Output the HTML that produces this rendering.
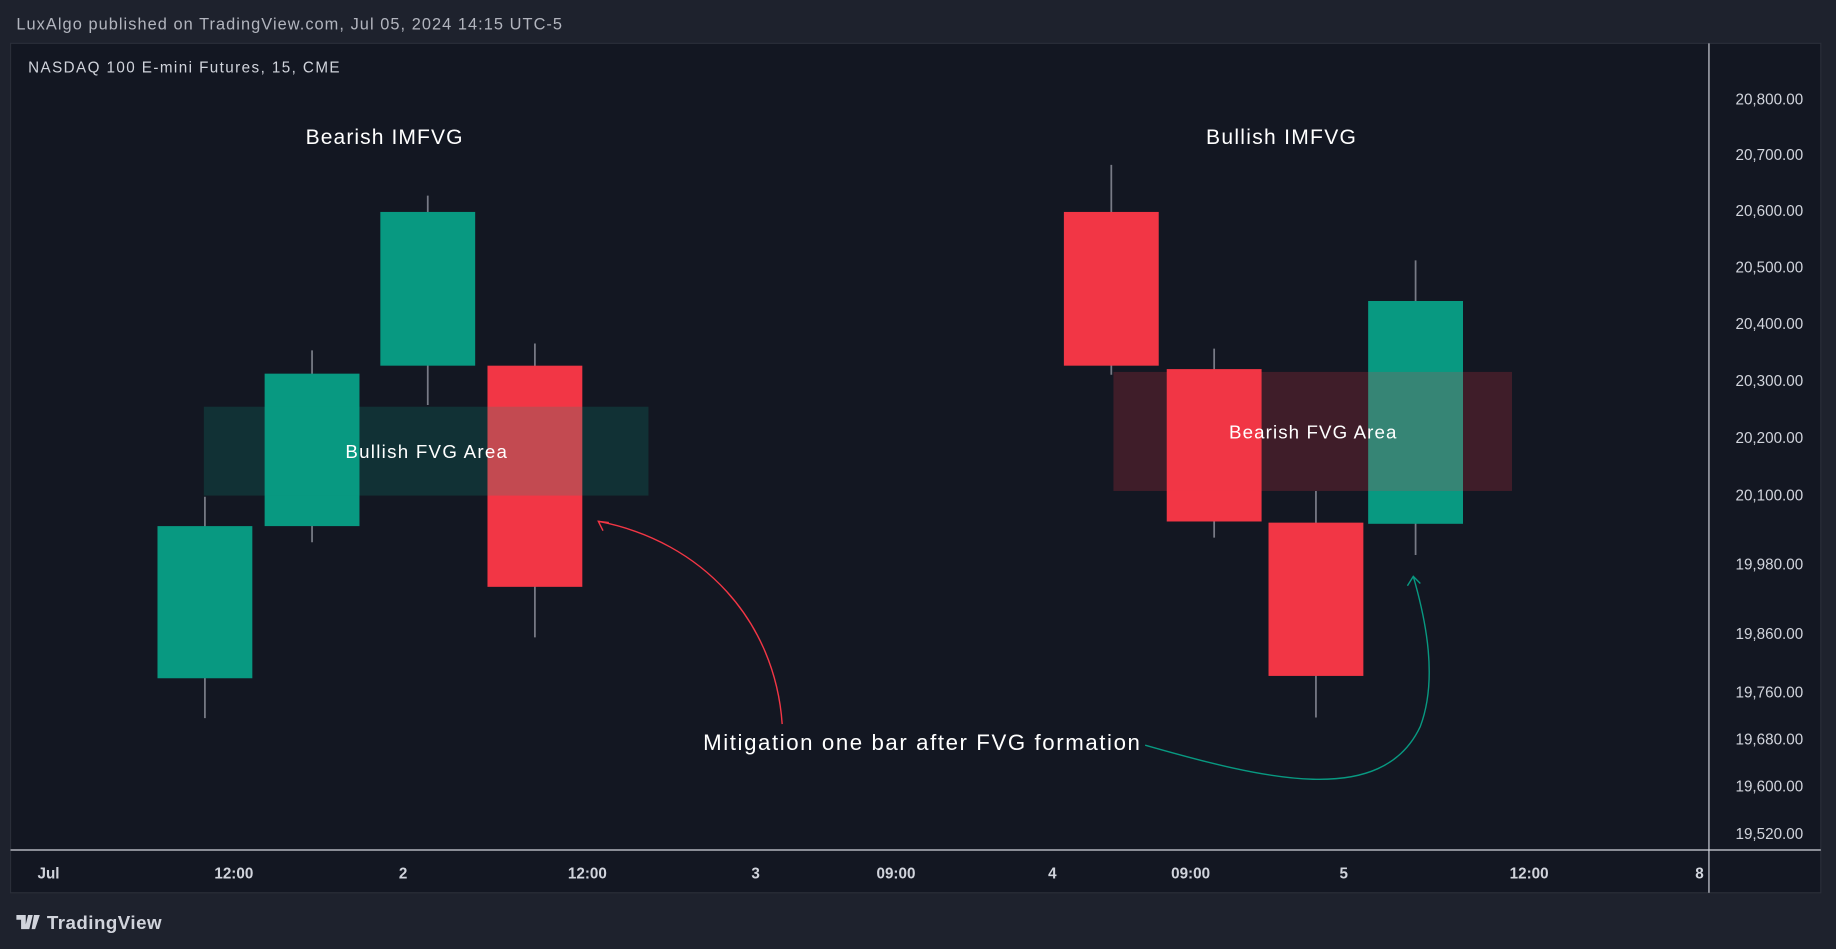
<!DOCTYPE html>
<html><head><meta charset="utf-8"><style>
html,body{margin:0;padding:0;background:#1e222d;}
svg{display:block;font-family:"Liberation Sans",sans-serif;}
</style></head><body>
<svg id="chart" width="1836" height="949" viewBox="0 0 1568 810" preserveAspectRatio="none" xmlns="http://www.w3.org/2000/svg">
<rect x="0" y="0" width="1568" height="810" fill="#1e222d"/>
<text x="14" y="25" fill="#b2b5be" font-size="14" textLength="466">LuxAlgo published on TradingView.com, Jul 05, 2024 14:15 UTC-5</text>
<rect x="9" y="37" width="1546" height="725" fill="#131722" stroke="#2a2e39" stroke-width="1"/>
<line x1="1459.5" y1="37" x2="1459.5" y2="762" stroke="#d1d4dc" stroke-width="1"/>
<line x1="9" y1="725.5" x2="1555" y2="725.5" stroke="#d1d4dc" stroke-width="1"/>
<text x="24" y="62" fill="#d1d4dc" font-size="13" textLength="266">NASDAQ 100 E-mini Futures, 15, CME</text>
<g id="yticks"></g><g id="xticks"></g><g id="candles"></g><g id="boxes"></g>
<text x="328" y="123" fill="#ffffff" font-size="18" text-anchor="middle" textLength="134">Bearish IMFVG</text>
<text x="1094" y="123" fill="#ffffff" font-size="18" text-anchor="middle" textLength="128">Bullish IMFVG</text>
<text x="787" y="640" fill="#ffffff" font-size="19" text-anchor="middle" textLength="373">Mitigation one bar after FVG formation</text>
<path d="M668,618 C 662,530 600,462 511,445" fill="none" stroke="#f23645" stroke-width="1.2"/>
<path d="M520,446 L511,445 L515,453" fill="none" stroke="#f23645" stroke-width="1.2"/>
<path d="M978,636 C 1080,665 1180,690 1213,620 C 1228,580 1218,530 1207,492" fill="none" stroke="#089981" stroke-width="1.2"/>
<path d="M1202,500 L1207,492 L1213,498" fill="none" stroke="#089981" stroke-width="1.2"/>
<g>
<path d="M14,781 h8 v12 h-4 v-8 h-4z M24,781 h4 l-3,12 h-4z M29,781 h5 l-4,12 h-3z" fill="#d1d4dc"/>
<text x="40" y="793" fill="#d1d4dc" font-size="16" font-weight="bold" textLength="98">TradingView</text>
</g>
</svg>
<script>
const priceTicks = [20800,20700,20600,20500,20400,20300,20200,20100,19980,19860,19760,19680,19600,19520];
const priceTickLabels = ["20,800.00","20,700.00","20,600.00","20,500.00","20,400.00","20,300.00","20,200.00","20,100.00","19,980.00","19,860.00","19,760.00","19,680.00","19,600.00","19,520.00"];
const timeTickSlots = [-1.46,0.27,1.85,3.57,5.14,6.45,7.91,9.2,10.63,12.36,13.95];
const timeTickLabels = ["Jul","12:00","2","12:00","3","09:00","4","09:00","5","12:00","8"];
const barSlots = [0,1,2.08,3.08,8.46,9.42,10.37,11.3];
const opens  = [19783,20045,20325,20325,20597,20319,20051,20049];
const highs  = [20096,20352,20626,20364,20681,20355,20106,20511];
const lows   = [19715,20017,20256,19853,20309,20025,19716,19995];
const closes = [20045,20311,20597,19940,20325,20053,19787,20439];
const fvgTop    = [20253,20314];
const fvgBottom = [20098,20106];
const fvgStartSlot = [-0.01,8.48];
const fvgEndSlot   = [4.14,12.2];
const fvgLabels = ["Bullish FVG Area","Bearish FVG Area"];
const fvgKinds = ["bull","bear"];

const NS="http://www.w3.org/2000/svg";
function y(p){ return 422 - 9871*Math.log(p/20100); }
function x(s){ return 175 + s*91.5; }
function mk(tag,attrs,parent){ const e=document.createElementNS(NS,tag); for(const k in attrs) e.setAttribute(k,attrs[k]); parent.appendChild(e); return e; }

const yg=document.getElementById('yticks');
priceTicks.forEach((p,i)=>{
  const t=mk('text',{x:1540,y:y(p)+5,fill:'#d1d4dc','font-size':13,'text-anchor':'end'},yg);
  
  
  t.textContent=priceTickLabels[i];
});
const xg=document.getElementById('xticks');
timeTickSlots.forEach((s,i)=>{
  const t=mk('text',{x:x(s),y:750,fill:'#d1d4dc','font-size':13,'font-weight':'bold','text-anchor':'middle'},xg);
  
  
  t.textContent=timeTickLabels[i];
});
const cg=document.getElementById('candles');
barSlots.forEach((s,i)=>{
  const cx=x(s), up=closes[i]>=opens[i], col=up?'#089981':'#f23645';
  const w=mk('line',{x1:cx,x2:cx,y1:y(highs[i]),y2:y(lows[i]),stroke:'#787b86','stroke-width':1.5},cg);
  
  
  const top=y(Math.max(opens[i],closes[i])), bot=y(Math.min(opens[i],closes[i]));
  const b=mk('rect',{x:cx-40.5,y:top,width:81,height:bot-top,fill:col},cg);
  
  
});
const bg=document.getElementById('boxes');
fvgTop.forEach((tp,i)=>{
  const x0=x(fvgStartSlot[i]), x1=x(fvgEndSlot[i]);
  const r=mk('rect',{x:x0,y:y(tp),width:x1-x0,height:y(fvgBottom[i])-y(tp),fill:fvgKinds[i]==='bull'?'rgba(8,153,129,0.2)':'rgba(242,54,69,0.2)'},bg);
  
  
  const t=mk('text',{x:(x0+x1)/2,y:(y(tp)+y(fvgBottom[i]))/2+6,fill:'#ffffff','font-size':16,'text-anchor':'middle',textLength:fvgKinds[i]==='bull'?138:143},bg);
  
  
  t.textContent=fvgLabels[i];
});
</script>
</body></html>
